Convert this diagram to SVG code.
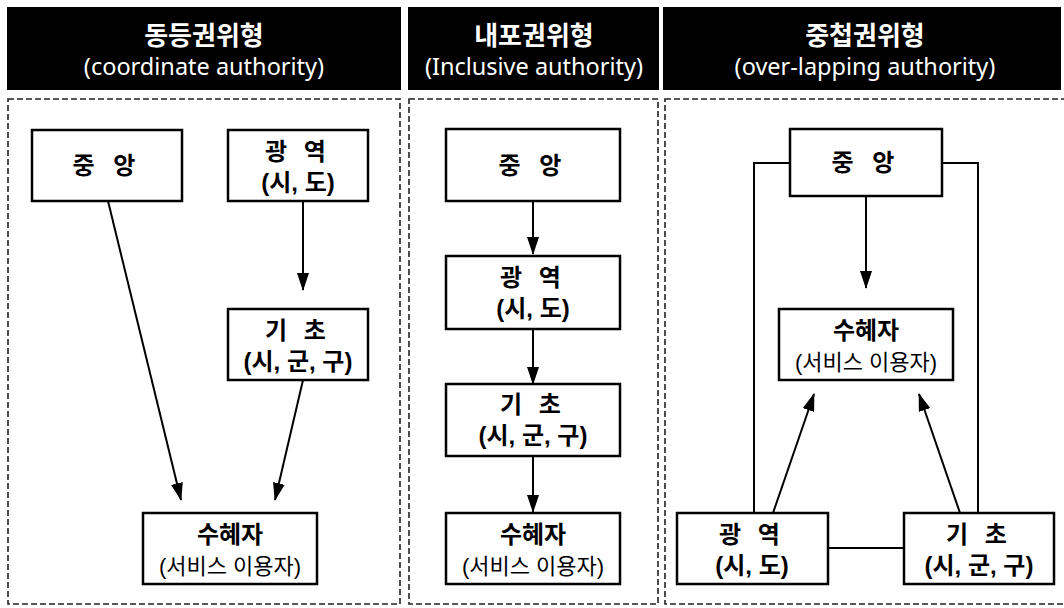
<svg xmlns="http://www.w3.org/2000/svg" width="1064" height="608" viewBox="0 0 1064 608">
<style>
.hdr{fill:#000;}
.ht1{font-family:"Noto Sans CJK KR","Noto Sans",sans-serif;font-size:26px;font-weight:bold;fill:#fff;text-anchor:middle;}
.ht2{font-family:"Noto Sans","Noto Sans CJK KR",sans-serif;font-size:23.5px;fill:#fff;text-anchor:middle;}
.panel{fill:none;stroke:#222;stroke-width:1.6;stroke-dasharray:6 3;}
.box{fill:#fff;stroke:#000;stroke-width:2.5;}
.t1{font-family:"Liberation Sans","Noto Sans CJK KR",sans-serif;font-size:24px;font-weight:bold;fill:#000;text-anchor:middle;}
.t2{font-family:"Liberation Sans","Noto Sans CJK KR",sans-serif;font-size:22px;fill:#000;text-anchor:middle;}
.ln{fill:none;stroke:#000;stroke-width:2;}
.ar{fill:none;stroke:#000;stroke-width:2;marker-end:url(#ah);}
</style>
<defs>
<marker id="ah" markerUnits="userSpaceOnUse" markerWidth="18" markerHeight="12" viewBox="0 0 18 12" refX="17" refY="6" orient="auto">
<path d="M0,0 L18,6 L0,12 Z" fill="#000"/>
</marker>
</defs>
<rect width="1064" height="608" fill="#fff"/>
<g id="headers">
<rect class="hdr" x="7" y="7" width="394" height="83"/>
<rect class="hdr" x="408" y="7" width="251" height="83"/>
<rect class="hdr" x="663" y="7" width="398" height="83"/>
<text class="ht1" x="204" y="45">동등권위형</text>
<text class="ht2" x="204" y="75">(coordinate authority)</text>
<text class="ht1" x="534" y="45">내포권위형</text>
<text class="ht2" x="534" y="75">(Inclusive authority)</text>
<text class="ht1" x="865" y="45">중첩권위형</text>
<text class="ht2" x="865" y="75">(over-lapping authority)</text>
</g>
<g id="panels">
<rect class="panel" x="8" y="99" width="392" height="505"/>
<rect class="panel" x="409" y="99" width="249" height="505"/>
<rect class="panel" x="665" y="99" width="410" height="505"/>
</g>
<g id="connectors">
<line class="ar" x1="303" y1="201" x2="303" y2="290"/>
<line class="ar" x1="108" y1="201" x2="181" y2="500"/>
<line class="ar" x1="303" y1="380" x2="275" y2="500"/>
<line class="ar" x1="533" y1="201" x2="533" y2="254"/>
<line class="ar" x1="533" y1="329" x2="533" y2="384"/>
<line class="ar" x1="533" y1="456" x2="533" y2="512"/>
<line class="ar" x1="866" y1="196" x2="866" y2="288"/>
<polyline class="ln" points="790,163 754,163 754,513"/>
<polyline class="ln" points="942,163 978,163 978,513"/>
<line class="ln" x1="828" y1="548" x2="904" y2="548"/>
<line class="ar" x1="773" y1="513" x2="814" y2="394"/>
<line class="ar" x1="960" y1="513" x2="919" y2="394"/>
</g>
<g id="L-central">
<rect class="box" x="32" y="130" width="150" height="71"/>
<text class="t1" x="107" y="174" letter-spacing="6">중 앙</text>
</g>
<g id="L-regional">
<rect class="box" x="228" y="130" width="140" height="71"/>
<text class="t1" x="298" y="160" letter-spacing="5">광 역</text>
<text class="t1" x="298" y="191">(시, 도)</text>
</g>
<g id="L-basic">
<rect class="box" x="228" y="309" width="140" height="71"/>
<text class="t1" x="298" y="339" letter-spacing="5">기 초</text>
<text class="t1" x="298" y="370">(시, 군, 구)</text>
</g>
<g id="L-beneficiary">
<rect class="box" x="143" y="513" width="174" height="71"/>
<text class="t1" x="230" y="543">수혜자</text>
<text class="t2" x="230" y="574">(서비스 이용자)</text>
</g>
<g id="M-central">
<rect class="box" x="446" y="129" width="174" height="72"/>
<text class="t1" x="533" y="174" letter-spacing="6">중 앙</text>
</g>
<g id="M-regional">
<rect class="box" x="446" y="256" width="174" height="73"/>
<text class="t1" x="533" y="286" letter-spacing="5">광 역</text>
<text class="t1" x="533" y="317">(시, 도)</text>
</g>
<g id="M-basic">
<rect class="box" x="446" y="384" width="174" height="72"/>
<text class="t1" x="533" y="413" letter-spacing="5">기 초</text>
<text class="t1" x="533" y="444">(시, 군, 구)</text>
</g>
<g id="M-beneficiary">
<rect class="box" x="446" y="513" width="174" height="71"/>
<text class="t1" x="533" y="543">수혜자</text>
<text class="t2" x="533" y="574">(서비스 이용자)</text>
</g>
<g id="R-central">
<rect class="box" x="790" y="129" width="152" height="67"/>
<text class="t1" x="866" y="171" letter-spacing="6">중 앙</text>
</g>
<g id="R-beneficiary">
<rect class="box" x="779" y="309" width="174" height="71"/>
<text class="t1" x="866" y="339">수혜자</text>
<text class="t2" x="866" y="370">(서비스 이용자)</text>
</g>
<g id="R-regional">
<rect class="box" x="677" y="513" width="151" height="71"/>
<text class="t1" x="752" y="543" letter-spacing="5">광 역</text>
<text class="t1" x="752" y="574">(시, 도)</text>
</g>
<g id="R-basic">
<rect class="box" x="904" y="513" width="150" height="71"/>
<text class="t1" x="979" y="543" letter-spacing="5">기 초</text>
<text class="t1" x="979" y="574">(시, 군, 구)</text>
</g>
</svg>
